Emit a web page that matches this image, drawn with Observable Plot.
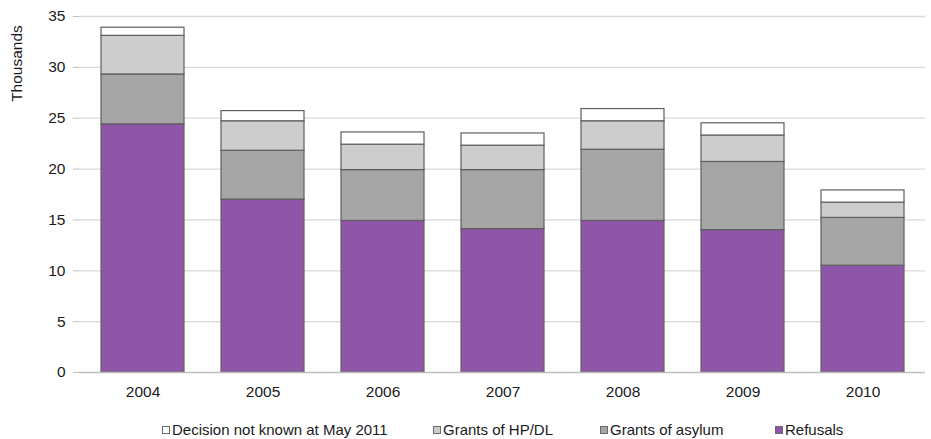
<!DOCTYPE html>
<html>
<head>
<meta charset="utf-8">
<script src="https://cdn.jsdelivr.net/npm/d3@7"></script>
<script src="https://cdn.jsdelivr.net/npm/@observablehq/plot@0.6"></script>
<style>
  html, body { margin: 0; padding: 0; background: #fff; }
  #wrap { position: relative; width: 931px; height: 439px; font-family: "Liberation Sans", Arial, sans-serif; color: #1a1a1a; }
  #legend { position: absolute; left: 0; top: 421px; width: 931px; height: 18px; font-size: 15px; }
  .item { position: absolute; top: 0; display: flex; align-items: center; white-space: nowrap; }
  .sw { width: 6px; height: 6px; border: 1px solid #6a6a6a; margin-right: 2px; }
</style>
</head>
<body>
<div id="wrap">
  <div id="chart"></div>
  <div id="legend"></div>
</div>
<script>
// ---- data (thousands) ----
const years = ["2004", "2005", "2006", "2007", "2008", "2009", "2010"];
const refusals = [24.4, 17.0, 14.9, 14.1, 14.9, 14.0, 10.5];
const grantsAsylum = [4.9, 4.8, 5.0, 5.8, 7.0, 6.7, 4.7];
const grantsHPDL = [3.8, 2.9, 2.5, 2.4, 2.8, 2.6, 1.5];
const decisionNotKnown = [0.8, 1.0, 1.2, 1.2, 1.2, 1.2, 1.2];
const seriesNames = ["Refusals", "Grants of asylum", "Grants of HP/DL", "Decision not known at May 2011"];
const legendOrder = ["Decision not known at May 2011", "Grants of HP/DL", "Grants of asylum", "Refusals"];
const yTicks = [0, 5, 10, 15, 20, 25, 30, 35];

// styling
const seriesColors = ["#8E55A8", "#A6A6A6", "#CDCDCD", "#FFFFFF"];
const legendLeft = [162, 433, 600, 775];

const seriesValues = [refusals, grantsAsylum, grantsHPDL, decisionNotKnown];
const rows = [];
seriesNames.forEach((s, si) => {
  years.forEach((yr, i) => rows.push({year: yr, series: s, value: seriesValues[si][i]}));
});

const chart = Plot.plot({
  width: 931,
  height: 410,
  marginTop: 16,
  marginBottom: 38,
  marginLeft: 79,
  marginRight: 6,
  style: {fontFamily: "'Liberation Sans', Arial, sans-serif", fontSize: "15px", color: "#1a1a1a", background: "#fff"},
  x: {domain: years, paddingInner: 0.31, paddingOuter: 0.155, label: null},
  y: {domain: [0, 35], label: null},
  color: {domain: seriesNames, range: seriesColors},
  marks: [
    Plot.ruleY(yTicks.filter(d => d > 0), {stroke: "#d9d9d9", strokeWidth: 1.3}),
    Plot.axisY({ticks: yTicks, tickSize: 6, tickPadding: 8, stroke: "#bfbfbf", label: null, fontSize: 15.5}),
    Plot.ruleX([0], {frameAnchor: "left", y1: 0, y2: 35, stroke: "#bfbfbf", strokeWidth: 1.3}),
    Plot.barY(rows, Plot.stackY({order: seriesNames}, {x: "year", y: "value", fill: "series", stroke: "#5f5f5f", strokeWidth: 1.2})),
    Plot.ruleY([0], {stroke: "#bfbfbf", strokeWidth: 1.3}),
    Plot.axisX({tickSize: 0, tickPadding: 13, label: null, fontSize: 15.5}),
    Plot.text(["Thousands"], {frameAnchor: "top-left", dx: -69, dy: 47, rotate: -90, textAnchor: "middle", fontSize: 15.5, fill: "#1a1a1a"})
  ]
});
document.getElementById("chart").appendChild(chart);

const legend = document.getElementById("legend");
legendOrder.forEach((name, i) => {
  const item = document.createElement("div");
  item.className = "item";
  item.style.left = legendLeft[i] + "px";
  const sw = document.createElement("span");
  sw.className = "sw";
  sw.style.background = seriesColors[seriesNames.indexOf(name)];
  const t = document.createElement("span");
  t.textContent = name;
  item.appendChild(sw);
  item.appendChild(t);
  legend.appendChild(item);
});
</script>
</body>
</html>
